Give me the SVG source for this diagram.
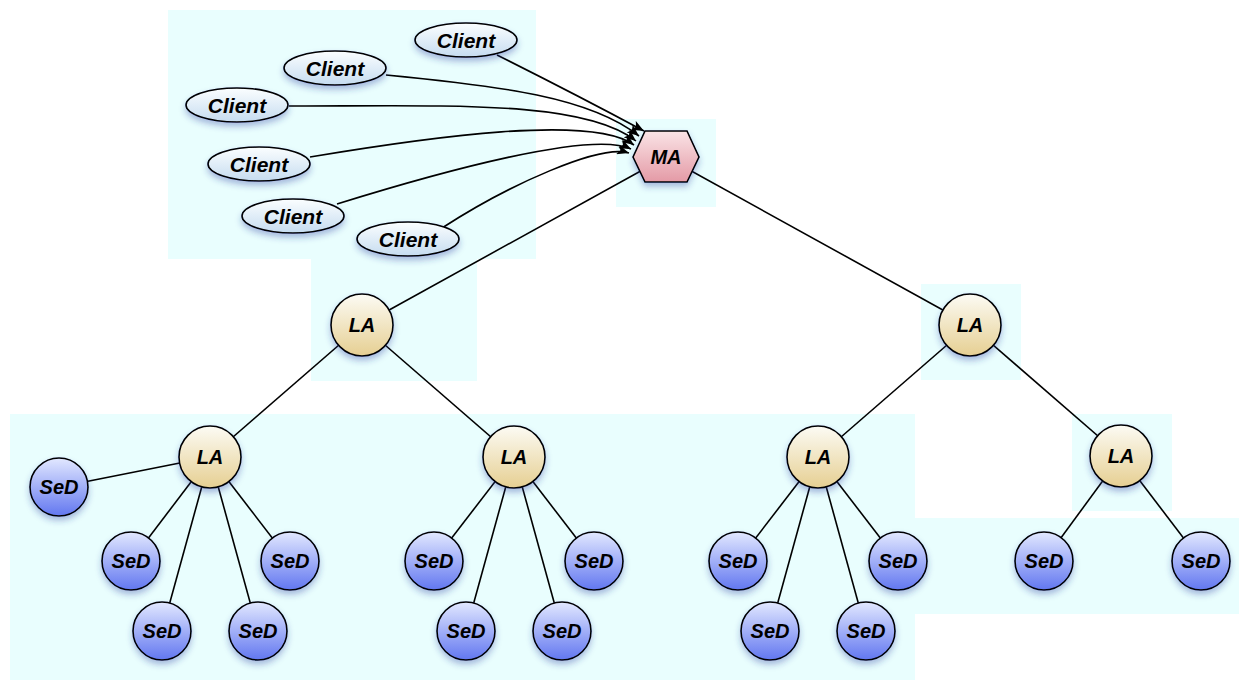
<svg xmlns="http://www.w3.org/2000/svg" width="1239" height="681" viewBox="0 0 1239 681">
<defs>
<style>
.bg{fill:#e9fefe;stroke:none}
.edge{fill:none;stroke:#000;stroke-width:1.6}
.arr{fill:none;stroke:#000;stroke-width:1.6;marker-end:url(#ah)}
.client{fill:url(#gClient);stroke:#000;stroke-width:1.6;filter:url(#sh)}
.ma{fill:url(#gMA);stroke:#000;stroke-width:1.6;filter:url(#sh)}
.la{fill:url(#gLA);stroke:#000;stroke-width:1.6;filter:url(#sh)}
.sed{fill:url(#gSeD);stroke:#000;stroke-width:1.6;filter:url(#sh)}
.t{font-family:"Liberation Sans",Arial,sans-serif;font-size:20px;font-weight:bold;font-style:italic;fill:#000;text-anchor:middle}
.tc{font-size:21px}
</style>
<linearGradient id="gClient" x1="0" y1="0" x2="0" y2="1">
<stop offset="0" stop-color="#fbfeff"/><stop offset="1" stop-color="#c6dcf0"/>
</linearGradient>
<linearGradient id="gMA" x1="0" y1="0" x2="0" y2="1">
<stop offset="0" stop-color="#fae4e6"/><stop offset="1" stop-color="#e49aa6"/>
</linearGradient>
<linearGradient id="gLA" x1="0" y1="0" x2="0" y2="1">
<stop offset="0" stop-color="#fcfbf4"/><stop offset="1" stop-color="#e6cf92"/>
</linearGradient>
<linearGradient id="gSeD" x1="0" y1="0" x2="0" y2="1">
<stop offset="0" stop-color="#e2e8ff"/><stop offset="1" stop-color="#6277f0"/>
</linearGradient>
<filter id="sh" x="-30%" y="-30%" width="160%" height="170%">
<feDropShadow dx="0" dy="4" stdDeviation="3" flood-color="#2a3aa0" flood-opacity="0.35"/>
</filter>
<marker id="ah" viewBox="0 0 12 10" refX="12" refY="5" markerWidth="13" markerHeight="10" markerUnits="userSpaceOnUse" orient="auto">
<path d="M0,0 L12,5 L0,10 L3,5 Z" fill="#000"/>
</marker>
</defs>

<g id="background">
<rect class="bg" x="168" y="10" width="368" height="249"/>
<rect class="bg" x="311" y="258" width="166" height="123"/>
<rect class="bg" x="616" y="119" width="100" height="88"/>
<rect class="bg" x="921" y="284" width="100" height="96"/>
<rect class="bg" x="10" y="414" width="905" height="266"/>
<rect class="bg" x="1072" y="414" width="100" height="97"/>
<rect class="bg" x="914" y="518" width="325" height="96"/>
</g>

<g id="connectors">
<path class="arr" d="M497,55 Q575,94 644,131"/>
<path class="arr" d="M386,75 C500,86 590,97 639,136"/>
<path class="arr" d="M289,106 C450,106 585,100 636,141"/>
<path class="arr" d="M310,157 C430,137 592,114 634,145"/>
<path class="arr" d="M337,204 C440,172 592,130 631,149"/>
<path class="arr" d="M442,228 C510,184 600,144 629,153"/>
<line class="edge" x1="666" y1="157" x2="362" y2="325"/>
<line class="edge" x1="666" y1="157" x2="970" y2="325"/>
<line class="edge" x1="362" y1="325" x2="210" y2="457"/>
<line class="edge" x1="362" y1="325" x2="514" y2="457"/>
<line class="edge" x1="970" y1="325" x2="818" y2="457"/>
<line class="edge" x1="970" y1="325" x2="1121" y2="456"/>
<line class="edge" x1="210" y1="457" x2="59" y2="487"/>
<line class="edge" x1="210" y1="457" x2="131" y2="561"/>
<line class="edge" x1="210" y1="457" x2="290" y2="561"/>
<line class="edge" x1="210" y1="457" x2="162" y2="631"/>
<line class="edge" x1="210" y1="457" x2="258" y2="631"/>
<line class="edge" x1="514" y1="457" x2="434" y2="561"/>
<line class="edge" x1="514" y1="457" x2="594" y2="561"/>
<line class="edge" x1="514" y1="457" x2="466" y2="631"/>
<line class="edge" x1="514" y1="457" x2="562" y2="631"/>
<line class="edge" x1="818" y1="457" x2="738" y2="561"/>
<line class="edge" x1="818" y1="457" x2="898" y2="561"/>
<line class="edge" x1="818" y1="457" x2="770" y2="631"/>
<line class="edge" x1="818" y1="457" x2="866" y2="631"/>
<line class="edge" x1="1121" y1="456" x2="1044" y2="561"/>
<line class="edge" x1="1121" y1="456" x2="1201" y2="561"/>
</g>

<g id="client1"><ellipse class="client" cx="466" cy="40" rx="51" ry="17"/><text class="t tc" x="466" y="47.5">Client</text></g>
<g id="client2"><ellipse class="client" cx="335" cy="68" rx="51" ry="17"/><text class="t tc" x="335" y="75.5">Client</text></g>
<g id="client3"><ellipse class="client" cx="237" cy="105" rx="51" ry="17"/><text class="t tc" x="237" y="112.5">Client</text></g>
<g id="client4"><ellipse class="client" cx="259" cy="164" rx="51" ry="17"/><text class="t tc" x="259" y="171.5">Client</text></g>
<g id="client5"><ellipse class="client" cx="293" cy="216" rx="51" ry="17"/><text class="t tc" x="293" y="223.5">Client</text></g>
<g id="client6"><ellipse class="client" cx="408" cy="239" rx="51" ry="17"/><text class="t tc" x="408" y="246.5">Client</text></g>

<g id="ma"><polygon class="ma" points="633,157 645,131 687,131 699,157 687,182 645,182"/><text class="t" x="666" y="164">MA</text></g>

<g id="la1"><circle class="la" cx="362" cy="325" r="31"/><text class="t" x="362" y="332">LA</text></g>
<g id="la2"><circle class="la" cx="970" cy="325" r="31"/><text class="t" x="970" y="332">LA</text></g>
<g id="la3"><circle class="la" cx="210" cy="457" r="31"/><text class="t" x="210" y="464">LA</text></g>
<g id="la4"><circle class="la" cx="514" cy="457" r="31"/><text class="t" x="514" y="464">LA</text></g>
<g id="la5"><circle class="la" cx="818" cy="457" r="31"/><text class="t" x="818" y="464">LA</text></g>
<g id="la6"><circle class="la" cx="1121" cy="456" r="31"/><text class="t" x="1121" y="463">LA</text></g>

<g id="sed1"><circle class="sed" cx="59" cy="487" r="29"/><text class="t" x="59" y="494">SeD</text></g>
<g id="sed2"><circle class="sed" cx="131" cy="561" r="29"/><text class="t" x="131" y="568">SeD</text></g>
<g id="sed3"><circle class="sed" cx="290" cy="561" r="29"/><text class="t" x="290" y="568">SeD</text></g>
<g id="sed4"><circle class="sed" cx="162" cy="631" r="29"/><text class="t" x="162" y="638">SeD</text></g>
<g id="sed5"><circle class="sed" cx="258" cy="631" r="29"/><text class="t" x="258" y="638">SeD</text></g>
<g id="sed6"><circle class="sed" cx="434" cy="561" r="29"/><text class="t" x="434" y="568">SeD</text></g>
<g id="sed7"><circle class="sed" cx="594" cy="561" r="29"/><text class="t" x="594" y="568">SeD</text></g>
<g id="sed8"><circle class="sed" cx="466" cy="631" r="29"/><text class="t" x="466" y="638">SeD</text></g>
<g id="sed9"><circle class="sed" cx="562" cy="631" r="29"/><text class="t" x="562" y="638">SeD</text></g>
<g id="sed10"><circle class="sed" cx="738" cy="561" r="29"/><text class="t" x="738" y="568">SeD</text></g>
<g id="sed11"><circle class="sed" cx="898" cy="561" r="29"/><text class="t" x="898" y="568">SeD</text></g>
<g id="sed12"><circle class="sed" cx="770" cy="631" r="29"/><text class="t" x="770" y="638">SeD</text></g>
<g id="sed13"><circle class="sed" cx="866" cy="631" r="29"/><text class="t" x="866" y="638">SeD</text></g>
<g id="sed14"><circle class="sed" cx="1044" cy="561" r="29"/><text class="t" x="1044" y="568">SeD</text></g>
<g id="sed15"><circle class="sed" cx="1201" cy="561" r="29"/><text class="t" x="1201" y="568">SeD</text></g>
</svg>
